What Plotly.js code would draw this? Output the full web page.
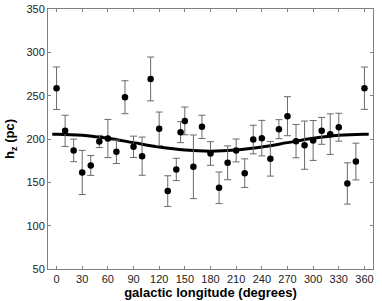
<!DOCTYPE html>
<html>
<head>
<meta charset="utf-8">
<script src="https://cdn.plot.ly/plotly-3.0.1.min.js"></script>
<style>html,body{margin:0;padding:0;background:#fff;}#chart{width:382px;height:301px;}</style>
</head>
<body>
<div id="chart"></div>
<script>
const longitude = [0,10,20,30,40,50,60,70,80,90,100,110,120,130,140,145,150,160,170,180,190,200,210,220,230,240,250,260,270,280,290,300,310,320,330,340,350,360];
const hz = [258.6,209.4,186.8,161.4,169.5,197.1,200.6,185.2,248.2,191.0,180.2,269.3,211.7,139.9,164.9,207.9,220.9,167.9,214.0,183.3,143.7,172.5,186.8,160.6,199.4,201.0,177.2,211.3,226.3,197.5,192.9,198.3,209.4,205.6,213.6,148.7,174.0,258.6];
const hzErr = [24.5,18,13,25.5,11.5,7,22,13.5,19,12.3,22,25.3,19.4,17.7,12.9,12.1,16,36.7,13.4,13.6,18.2,19.5,13.2,16.5,16.5,20.5,20,11,22.5,19.2,27.8,23,15.5,23.4,16.1,23.8,21.2,24.4];
const fitLongitude = [-5,0,30,60,90,120,150,180,210,240,270,300,330,360,365];
const fitHz = [205.6,205.6,204.3,200.8,195.8,190.8,187.3,186.0,187.3,190.8,195.8,200.8,204.3,205.6,205.6];
const xTicks = [0,30,60,90,120,150,180,210,240,270,300,330,360];
const yTicks = [50,100,150,200,250,300,350];

const data = [
  {x: fitLongitude, y: fitHz, mode: 'lines', line: {color: '#000', width: 3, shape: 'spline'}, hoverinfo: 'skip'},
  {x: longitude, y: hz, mode: 'markers', marker: {color: '#000', size: 6.5},
   error_y: {type: 'data', array: hzErr, visible: true, color: '#6a6a6a', thickness: 1, width: 3.5}}
];
const axisCommon = {showline: true, linecolor: '#808080', linewidth: 1, mirror: 'ticks', ticks: 'inside', ticklen: 3, tickcolor: '#808080', showgrid: false, zeroline: false, automargin: false, tickfont: {family: 'Liberation Sans, Arial, sans-serif', size: 11, color: '#222'}};
const layout = {
  width: 382, height: 301, showlegend: false,
  paper_bgcolor: '#fff', plot_bgcolor: '#fff',
  margin: {l: 48, r: 9, t: 9, b: 32},
  xaxis: Object.assign({}, axisCommon, {range: [-10, 370], tickvals: xTicks, ticktext: xTicks.map(String),
    title: {text: '<b>galactic longitude (degrees)</b>', font: {family: 'Liberation Sans, Arial, sans-serif', size: 13, color: '#000'}, standoff: 1}}),
  yaxis: Object.assign({}, axisCommon, {range: [50, 350], tickvals: yTicks, ticktext: yTicks.map(String),
    title: {text: '<b>h<sub>z</sub> (pc)</b>', font: {family: 'Liberation Sans, Arial, sans-serif', size: 13, color: '#000'}, standoff: 8}})
};
Plotly.newPlot('chart', data, layout, {displayModeBar: false, staticPlot: true});
</script>
</body>
</html>
